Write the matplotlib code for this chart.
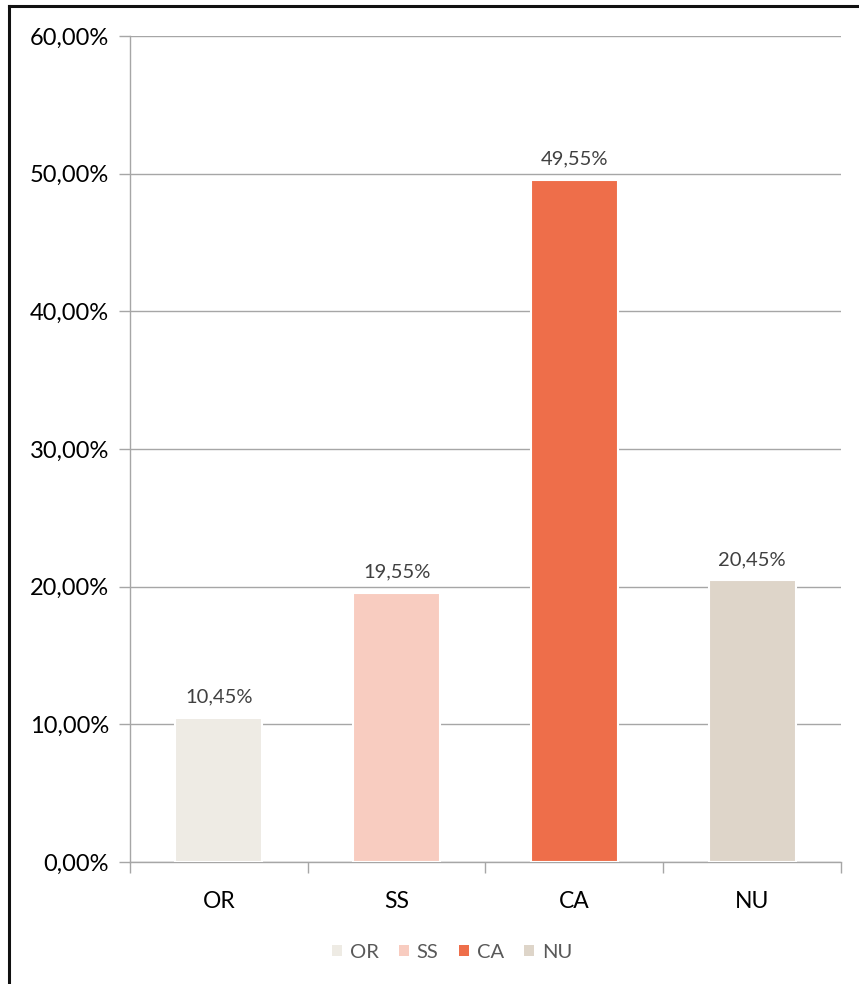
import matplotlib
matplotlib.use("Agg")
import matplotlib.pyplot as plt
from matplotlib.patches import Rectangle

categories = ["OR", "SS", "CA", "NU"]
values = [0.1045, 0.1955, 0.4955, 0.2045]
colors = ["#EEEBE4", "#F8CCC0", "#EE6E4A", "#DED5C9"]
yticks = [0.0, 0.1, 0.2, 0.3, 0.4, 0.5, 0.6]

plt.rcParams['font.family'] = ['Lato', 'DejaVu Sans']

W, H = 859, 984
fig = plt.figure(figsize=(W / 100, H / 100), dpi=100)
ax = fig.add_axes([130 / W, 1 - 862 / H, (841 - 130) / W, (862 - 36) / H])

x = list(range(len(categories)))
bars = ax.bar(x, values, width=0.49, color=colors, edgecolor="white", linewidth=1.5, zorder=3)

for xi, v in zip(x, values):
    ax.annotate(f"{v*100:.2f}%".replace(".", ","), (xi, v), xytext=(0, 9),
                textcoords="offset points", ha="center", va="bottom",
                fontsize=14.5, color="#404040")

ax.set_xlim(-0.5, len(categories) - 0.5)
ax.set_ylim(0, 0.6)
ax.set_yticks(yticks)
ax.set_yticklabels([f"{t*100:.2f}%".replace(".", ",") for t in yticks], fontsize=17, color="black")
ax.yaxis.grid(True, color="#A6A6A6", linewidth=1.0, zorder=0)
ax.set_axisbelow(True)

ax.set_xticks(x)
ax.set_xticklabels(categories, fontsize=16.5, color="black")
ax.tick_params(axis="x", length=0, pad=21)
ax.set_xticks([i - 0.5 for i in range(len(categories) + 1)], minor=True)
ax.tick_params(axis="x", which="minor", length=8, width=1, color="#A6A6A6")
ax.tick_params(axis="y", length=8, width=1, color="#A6A6A6", pad=7)

for s in ["top", "right"]:
    ax.spines[s].set_visible(False)
for s in ["left", "bottom"]:
    ax.spines[s].set_color("#A6A6A6")
    ax.spines[s].set_linewidth(1.0)

handles = [Rectangle((0, 0), 1, 1, facecolor=c, edgecolor="none") for c in colors]
leg = fig.legend(handles, categories, loc="center", bbox_to_anchor=(452 / W, 1 - 952 / H),
                 ncol=4, frameon=False, fontsize=14.5, handlelength=0.5, handleheight=0.5,
                 handletextpad=0.4, columnspacing=1.0)
for t in leg.get_texts():
    t.set_color("#595959")

# figure border (top and left visible)
fig.add_artist(plt.Line2D([9 / W, 1.0], [1 - 6 / H, 1 - 6 / H], transform=fig.transFigure,
                          color="#111111", linewidth=2.2))
fig.add_artist(plt.Line2D([9 / W, 9 / W], [0, 1 - 6 / H], transform=fig.transFigure,
                          color="#111111", linewidth=2.2))

fig.savefig("out.png", dpi=100)
